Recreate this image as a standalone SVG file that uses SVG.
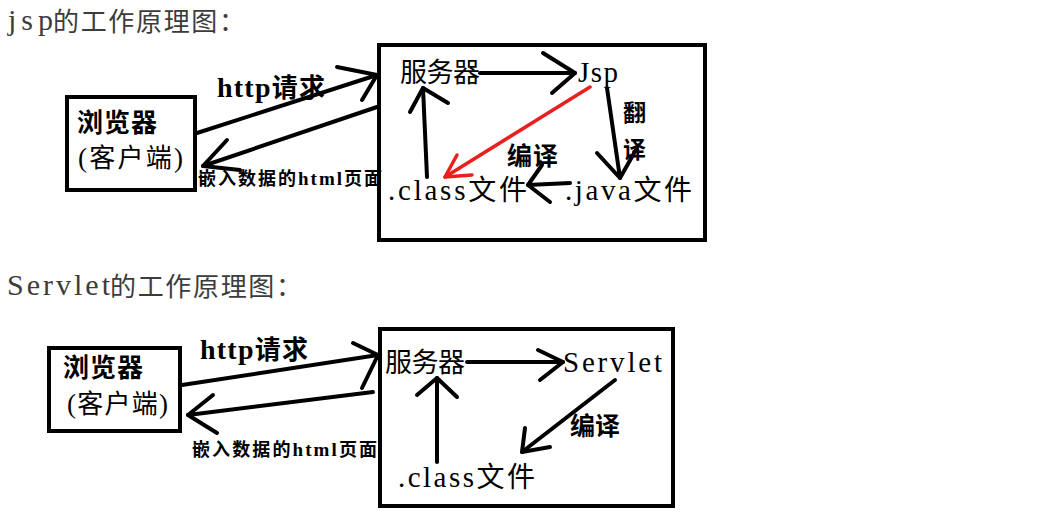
<svg xmlns="http://www.w3.org/2000/svg" width="1052" height="524" viewBox="0 0 1052 524">
<style>
.t{font-family:"Noto Sans CJK SC",sans-serif;fill:#000}
.ttl{font-family:"Noto Sans CJK SC",sans-serif;fill:#3c3c3c;font-size:26px}
.ttl.l{font-family:"Liberation Serif",serif;font-size:30px}
.l{font-family:"Liberation Serif",serif}
.b{font-weight:bold}
.box{fill:#fff;stroke:#000;stroke-width:4}
.c path{fill:none;stroke:#000;stroke-width:4;stroke-linecap:round;stroke-linejoin:round}
.c path.red{stroke:#e8201e;stroke-width:3.5}
</style>
<rect width="1052" height="524" fill="#fff"/>

<g id="title1">
<text class="ttl l" x="8" y="30" textLength="45">jsp</text>
<text class="ttl" x="53" y="31" textLength="192">的工作原理图：</text>
</g>
<g id="title2">
<text class="ttl l" x="7" y="295" textLength="103">Servlet</text>
<text class="ttl" x="110" y="296" textLength="192">的工作原理图：</text>
</g>

<g id="browser1">
<rect class="box" x="67" y="97" width="128" height="93"/>
<text class="t b" x="77" y="132" font-size="26" textLength="80">浏览器</text>
<text class="t" x="78" y="167" textLength="105"><tspan class="l" font-size="27">(</tspan><tspan font-size="26">客户端</tspan><tspan class="l" font-size="27">)</tspan></text>
</g>

<g id="server1">
<rect class="box" x="379" y="45" width="326" height="195"/>
<text class="t" x="400" y="82" font-size="27" textLength="80">服务器</text>
<text class="t l" x="578" y="82" font-size="29" textLength="40">Jsp</text>
<text class="t" x="565" y="200" textLength="127"><tspan class="l" font-size="29">.java</tspan><tspan font-size="28">文件</tspan></text>
<text class="t" x="388" y="200" textLength="139"><tspan class="l" font-size="29">.class</tspan><tspan font-size="28">文件</tspan></text>
<text class="t b" x="623" y="121" font-size="23">翻</text>
<text class="t b" x="623" y="158" font-size="23">译</text>
<text class="t b" x="507" y="165" font-size="25" textLength="51">编译</text>
</g>

<g id="browser2">
<rect class="box" x="49" y="348" width="131" height="83"/>
<text class="t b" x="63" y="377" font-size="26" textLength="80">浏览器</text>
<text class="t" x="67" y="413" textLength="101"><tspan class="l" font-size="27">(</tspan><tspan font-size="26">客户端</tspan><tspan class="l" font-size="27">)</tspan></text>
</g>

<g id="server2">
<rect class="box" x="380" y="329" width="293" height="177"/>
<text class="t" x="385" y="372" font-size="27" textLength="80">服务器</text>
<text class="t l" x="563" y="372" font-size="29" textLength="99">Servlet</text>
<text class="t" x="398" y="487" textLength="137"><tspan class="l" font-size="29">.class</tspan><tspan font-size="28">文件</tspan></text>
<text class="t b" x="570" y="435" font-size="25" textLength="50">编译</text>
</g>

<g id="labels">
<text class="t b" x="217" y="97" textLength="108"><tspan class="l" font-size="28">http</tspan><tspan font-size="26">请求</tspan></text>
<text class="t b" x="198" y="185" textLength="184"><tspan font-size="18">嵌入数据的</tspan><tspan class="l" font-size="19">html</tspan><tspan font-size="18">页面</tspan></text>
<text class="t b" x="200" y="359" textLength="108"><tspan class="l" font-size="28">http</tspan><tspan font-size="26">请求</tspan></text>
<text class="t b" x="192" y="456" textLength="185"><tspan font-size="18">嵌入数据的</tspan><tspan class="l" font-size="19">html</tspan><tspan font-size="18">页面</tspan></text>
</g>

<g id="connectors" class="c">
<path d="M197 133 L377 75"/>
<path d="M337 67 L377 75 L362 100"/>
<path d="M377 107 L203 166"/>
<path d="M227 140 L203 166 L240 170"/>
<path d="M480 73 L575 73"/>
<path d="M543 53 L575 73 L552 93"/>
<path d="M607 88 L620 178"/>
<path d="M597 153 L620 178 L637 148"/>
<path d="M570 183 L528 185"/>
<path d="M542 165 L528 185 L550 202"/>
<path d="M427 177 L423 88"/>
<path d="M410 112 L423 88 L448 103"/>
<path class="red" d="M590 87 L445 177"/>
<path class="red" d="M457 155 L445 177 L472 175"/>
<path d="M182 385 L378 355"/>
<path d="M353 343 L378 355 L362 388"/>
<path d="M373 392 L188 415"/>
<path d="M213 395 L188 415 L217 433"/>
<path d="M467 362 L563 362"/>
<path d="M538 350 L563 362 L540 380"/>
<path d="M615 380 L522 452"/>
<path d="M525 428 L522 452 L550 447"/>
<path d="M437 462 L437 378"/>
<path d="M417 395 L437 378 L457 397"/>
</g>
</svg>
